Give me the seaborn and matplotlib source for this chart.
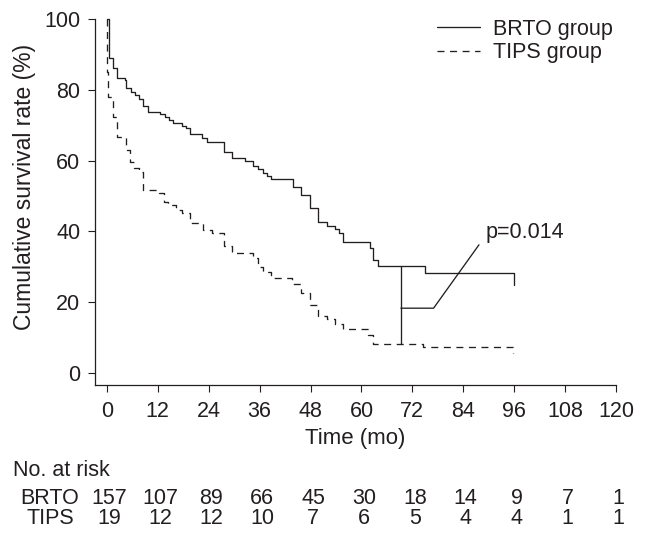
import numpy as np
import pandas as pd
import seaborn as sns
import matplotlib.pyplot as plt
from matplotlib import transforms

# Kaplan-Meier steps (months, survival %)
brto_time = [0, 0.5, 1.5, 2.4, 4.2, 4.6, 5.6, 6.6, 7.6, 8.6, 9.6, 12.5, 13.7, 14.6,
             15.6, 17.6, 18.6, 19.6, 22.5, 23.5, 27.6, 29.6, 32.5, 34.5, 35.7, 36.7,
             37.7, 38.8, 43.8, 45.8, 47.9, 49.8, 51.8, 53.8, 54.8, 55.7, 62.0, 62.8,
             64.0, 75.0, 96.0, 96.0]
brto_surv = [100, 89.1, 86.1, 83.4, 82.8, 80.6, 79.5, 78.5, 77.3, 75.5, 73.8, 73.2, 72.4,
             71.5, 70.5, 69.8, 69.1, 67.5, 66.5, 65.3, 62.5, 60.7, 59.9, 58.5, 57.5, 56.6,
             55.6, 54.7, 52.5, 50.3, 46.7, 42.7, 41.6, 40.6, 39.5, 37.1, 35.2, 31.9,
             30.3, 28.2, 28.2, 24.9]

tips_time = [0, 0, 0.3, 1.5, 2.4, 4.5, 5.4, 6.4, 7.5, 8.4, 12.3, 13.4, 14.5, 16.4, 17.6,
             19.6, 22.6, 24.7, 27.6, 29.6, 34.5, 35.7, 36.9, 38.7, 43.6, 45.8, 47.9,
             49.7, 51.8, 53.8, 55.7, 61.6, 62.8, 74.6, 95.8, 95.8]
tips_surv = [100, 85.1, 78.0, 72.2, 66.8, 63.0, 59.7, 57.8, 56.7, 51.7, 50.8, 48.4, 47.5,
             46.0, 45.3, 42.5, 40.4, 39.6, 35.9, 33.8, 32.4, 30.0, 28.6, 26.7, 25.1, 22.7,
             19.2, 16.1, 15.2, 13.8, 12.3, 10.7, 8.3, 7.4, 7.4, 5.6]

# p-value bracket
bracket_x = [69.3, 69.3]
bracket_y = [30.2, 8.2]
pointer_x = [69.3, 77.0, 87.7]
pointer_y = [18.3, 18.3, 36.2]
p_text = "p=0.014"
p_pos = (89.2, 39.6)

# numbers at risk
risk_times = [0, 12, 24, 36, 48, 60, 72, 84, 96, 108, 120]
risk_brto = [157, 107, 89, 66, 45, 30, 18, 14, 9, 7, 1]
risk_tips = [19, 12, 12, 10, 7, 6, 5, 4, 4, 1, 1]

ink = "#231f20"
W, H = 646, 543

sns.set_style("ticks")
plt.rcParams["font.family"] = ["Liberation Sans", "DejaVu Sans"]
plt.rcParams["font.size"] = 15.5
plt.rcParams["text.color"] = ink
plt.rcParams["axes.labelcolor"] = ink
plt.rcParams["xtick.color"] = ink
plt.rcParams["ytick.color"] = ink

df = pd.concat([
    pd.DataFrame({"time": brto_time, "surv": brto_surv, "group": "BRTO group"}),
    pd.DataFrame({"time": tips_time, "surv": tips_surv, "group": "TIPS group"}),
])

fig = plt.figure(figsize=(W / 100, H / 100), dpi=100)
ax = fig.add_axes([95 / W, 1 - 385 / H, (616 - 95) / W, (385 - 19) / H])

sns.lineplot(data=df, x="time", y="surv", hue="group", style="group",
             palette={"BRTO group": ink, "TIPS group": ink},
             dashes={"BRTO group": "", "TIPS group": (5.3, 4.2)},
             drawstyle="steps-post", estimator=None, sort=False,
             linewidth=0.95, ax=ax, clip_on=False)

ax.plot(bracket_x, bracket_y, color=ink, lw=0.95)
ax.plot(pointer_x, pointer_y, color=ink, lw=0.95)
ax.text(p_pos[0], p_pos[1], p_text, ha="left", va="center", fontsize=15.5)

ax.set_xlim(-2.8, 120)
ax.set_ylim(-3.4, 100)
ax.set_xticks(range(0, 121, 12))
ax.set_yticks(range(0, 101, 20))
ax.tick_params(length=5, width=0.8, labelsize=15.5)
ax.tick_params(axis="x", pad=6.5)
ax.tick_params(axis="y", pad=5.5)
for s in ["left", "bottom"]:
    ax.spines[s].set_linewidth(0.9)
    ax.spines[s].set_color(ink)
sns.despine(ax=ax)

ax.set_xlabel("Time (mo)", fontsize=16)
ax.xaxis.set_label_coords(0.5, (385 - 428) / 366)
ax.set_ylabel("Cumulative survival rate (%)", fontsize=16.5)
ax.yaxis.set_label_coords((36 - 95) / 521, 0.54)

handles, labels = ax.get_legend_handles_labels()
ax.legend(handles, labels, loc="upper left", bbox_to_anchor=((437 - 95) / 521, 1.0),
          frameon=False, borderpad=0, borderaxespad=0, handlelength=2.0,
          handletextpad=0.6, labelspacing=0.1, fontsize=15.5)

# risk table
fig.text(13 / W, 1 - 470 / H, "No. at risk", ha="left", va="center", fontsize=15.5)
fig.text(50 / W, 1 - 498 / H, "BRTO", ha="center", va="center", fontsize=15.5)
fig.text(50 / W, 1 - 519 / H, "TIPS", ha="center", va="center", fontsize=15.5)
tr = transforms.blended_transform_factory(ax.transData, fig.transFigure)
for t, a, b in zip(risk_times, risk_brto, risk_tips):
    ax.text(t + 0.6, 1 - 498 / H, str(a), transform=tr, ha="center", va="center", fontsize=15.5)
    ax.text(t + 0.6, 1 - 519 / H, str(b), transform=tr, ha="center", va="center", fontsize=15.5)

fig.savefig("out.png", dpi=100)
